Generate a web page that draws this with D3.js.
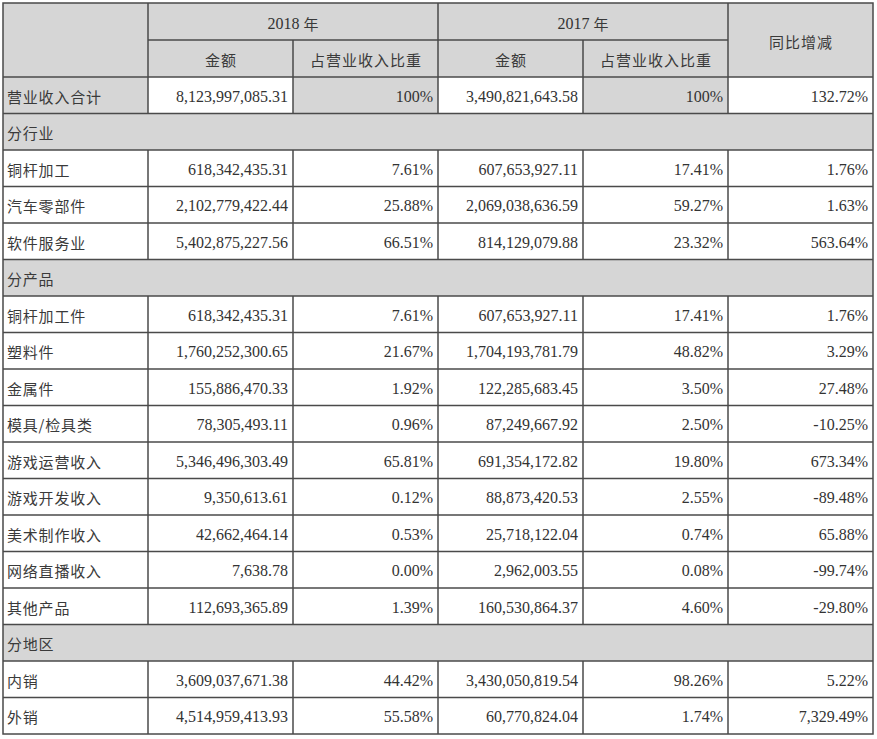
<!DOCTYPE html>
<html><head><meta charset="utf-8">
<script src="https://cdn.jsdelivr.net/npm/d3@7"></script>
<style>html,body{margin:0;padding:0;background:#fff;}</style>
</head><body><svg id="c" width="877" height="739"></svg>
<script>
const yearHeaders = ["2018 年", "2017 年"];
const subHeaders = ["金额", "占营业收入比重", "金额", "占营业收入比重"];
const yoyHeader = "同比增减";
const rowLabels = ["营业收入合计","分行业","铜杆加工","汽车零部件","软件服务业","分产品","铜杆加工件","塑料件","金属件","模具/检具类","游戏运营收入","游戏开发收入","美术制作收入","网络直播收入","其他产品","分地区","内销","外销"];
const sectionRows = ["分行业","分产品","分地区"];
const amount2018 = ["8,123,997,085.31","","618,342,435.31","2,102,779,422.44","5,402,875,227.56","","618,342,435.31","1,760,252,300.65","155,886,470.33","78,305,493.11","5,346,496,303.49","9,350,613.61","42,662,464.14","7,638.78","112,693,365.89","","3,609,037,671.38","4,514,959,413.93"];
const share2018 = ["100%","","7.61%","25.88%","66.51%","","7.61%","21.67%","1.92%","0.96%","65.81%","0.12%","0.53%","0.00%","1.39%","","44.42%","55.58%"];
const amount2017 = ["3,490,821,643.58","","607,653,927.11","2,069,038,636.59","814,129,079.88","","607,653,927.11","1,704,193,781.79","122,285,683.45","87,249,667.92","691,354,172.82","88,873,420.53","25,718,122.04","2,962,003.55","160,530,864.37","","3,430,050,819.54","60,770,824.04"];
const share2017 = ["100%","","17.41%","59.27%","23.32%","","17.41%","48.82%","3.50%","2.50%","19.80%","2.55%","0.74%","0.08%","4.60%","","98.26%","1.74%"];
const yoyChange = ["132.72%","","1.76%","1.63%","563.64%","","1.76%","3.29%","27.48%","-10.25%","673.34%","-89.48%","65.88%","-99.74%","-29.80%","","5.22%","7,329.49%"];

const svg = d3.select("#c");
const gray = "#d6d6d6", line = "#4a4a4a";
const cols = d3.range(6);
const x = d3.scaleBand().domain(cols).range([3, 873]);
const headTop = 3, headMid = 40, headBot = 77, bottom = 734;
const y = d3.scaleBand().domain(d3.range(rowLabels.length)).range([headBot, bottom]);
const columns = [rowLabels, amount2018, share2018, amount2017, share2017, yoyChange];
const cjk = "'Noto Sans CJK SC','Noto Sans',sans-serif";
const serif = "'Liberation Serif','Times New Roman',serif";
const cjkColor = "#3a3a3a";

svg.append("rect").attr("x", 3).attr("y", headTop).attr("width", 870).attr("height", headBot - headTop).attr("fill", gray);

const cells = [];
rowLabels.forEach((lab, i) => {
  const sec = sectionRows.includes(lab);
  if (sec) { cells.push({r: i, c: 0, span: 6, fill: gray}); return; }
  cols.forEach(c => {
    let fill = "#fff";
    if (i === 0 && (c === 0 || c === 2 || c === 4)) fill = gray;
    cells.push({r: i, c, span: 1, fill});
  });
});
svg.append("g").selectAll("rect").data(cells).join("rect")
  .attr("x", d => x(d.c)).attr("y", d => y(d.r))
  .attr("width", d => x.bandwidth() * d.span).attr("height", y.bandwidth())
  .attr("fill", d => d.fill);

const tg = svg.append("g");
rowLabels.forEach((lab, i) => {
  const cy = y(i) + y.bandwidth() / 2 + 1;
  tg.append("text").attr("x", x(0) + 4).attr("y", cy).attr("dominant-baseline", "central")
    .attr("font-family", cjk).attr("font-size", 15).attr("letter-spacing", 0.8).attr("fill", cjkColor).text(lab);
  if (sectionRows.includes(lab)) return;
  for (let c = 1; c < 6; c++) {
    tg.append("text").attr("x", x(c) + x.bandwidth() - 5).attr("y", cy)
      .attr("dominant-baseline", "central").attr("text-anchor", "end")
      .attr("font-family", serif).attr("font-size", 16).attr("fill", "#333").text(columns[c][i]);
  }
});
yearHeaders.forEach((t, k) => {
  const parts = t.split(" ");
  const cx = x(1 + 2 * k) + x.bandwidth();
  const tx = tg.append("text").attr("x", cx).attr("y", (headTop + headMid) / 2 + 1)
    .attr("dominant-baseline", "central").attr("text-anchor", "middle").attr("fill", "#333");
  tx.append("tspan").attr("font-family", serif).attr("font-size", 16).text(parts[0] + " ");
  tx.append("tspan").attr("font-family", cjk).attr("font-size", 15).attr("fill", cjkColor).text(parts[1]);
});
subHeaders.forEach((t, k) => {
  tg.append("text").attr("x", x(1 + k) + x.bandwidth() / 2 + 0.5).attr("y", (headMid + headBot) / 2 + 1)
    .attr("dominant-baseline", "central").attr("text-anchor", "middle")
    .attr("font-family", cjk).attr("font-size", 15).attr("letter-spacing", 1).attr("fill", cjkColor).text(t);
});
tg.append("text").attr("x", x(5) + x.bandwidth() / 2 + 0.5).attr("y", (headTop + headBot) / 2 + 1)
  .attr("dominant-baseline", "central").attr("text-anchor", "middle")
  .attr("font-family", cjk).attr("font-size", 15).attr("letter-spacing", 1).attr("fill", cjkColor).text(yoyHeader);

const lg = svg.append("g").attr("stroke", line).attr("stroke-width", 1.5).attr("fill", "none");
lg.append("rect").attr("x", 3).attr("y", headTop).attr("width", 870).attr("height", bottom - headTop);
lg.append("line").attr("x1", x(1)).attr("x2", x(5)).attr("y1", headMid).attr("y2", headMid);
d3.range(rowLabels.length).forEach(i => {
  lg.append("line").attr("x1", 3).attr("x2", 873).attr("y1", y(i)).attr("y2", y(i));
});
d3.range(rowLabels.length).forEach(i => {
  if (sectionRows.includes(rowLabels[i])) return;
  for (let c = 1; c < 6; c++) {
    lg.append("line").attr("x1", x(c)).attr("x2", x(c)).attr("y1", y(i)).attr("y2", y(i) + y.bandwidth());
  }
});
lg.append("line").attr("x1", x(1)).attr("x2", x(1)).attr("y1", headTop).attr("y2", headBot);
lg.append("line").attr("x1", x(3)).attr("x2", x(3)).attr("y1", headTop).attr("y2", headBot);
lg.append("line").attr("x1", x(5)).attr("x2", x(5)).attr("y1", headTop).attr("y2", headBot);
lg.append("line").attr("x1", x(2)).attr("x2", x(2)).attr("y1", headMid).attr("y2", headBot);
lg.append("line").attr("x1", x(4)).attr("x2", x(4)).attr("y1", headMid).attr("y2", headBot);
</script></body></html>
